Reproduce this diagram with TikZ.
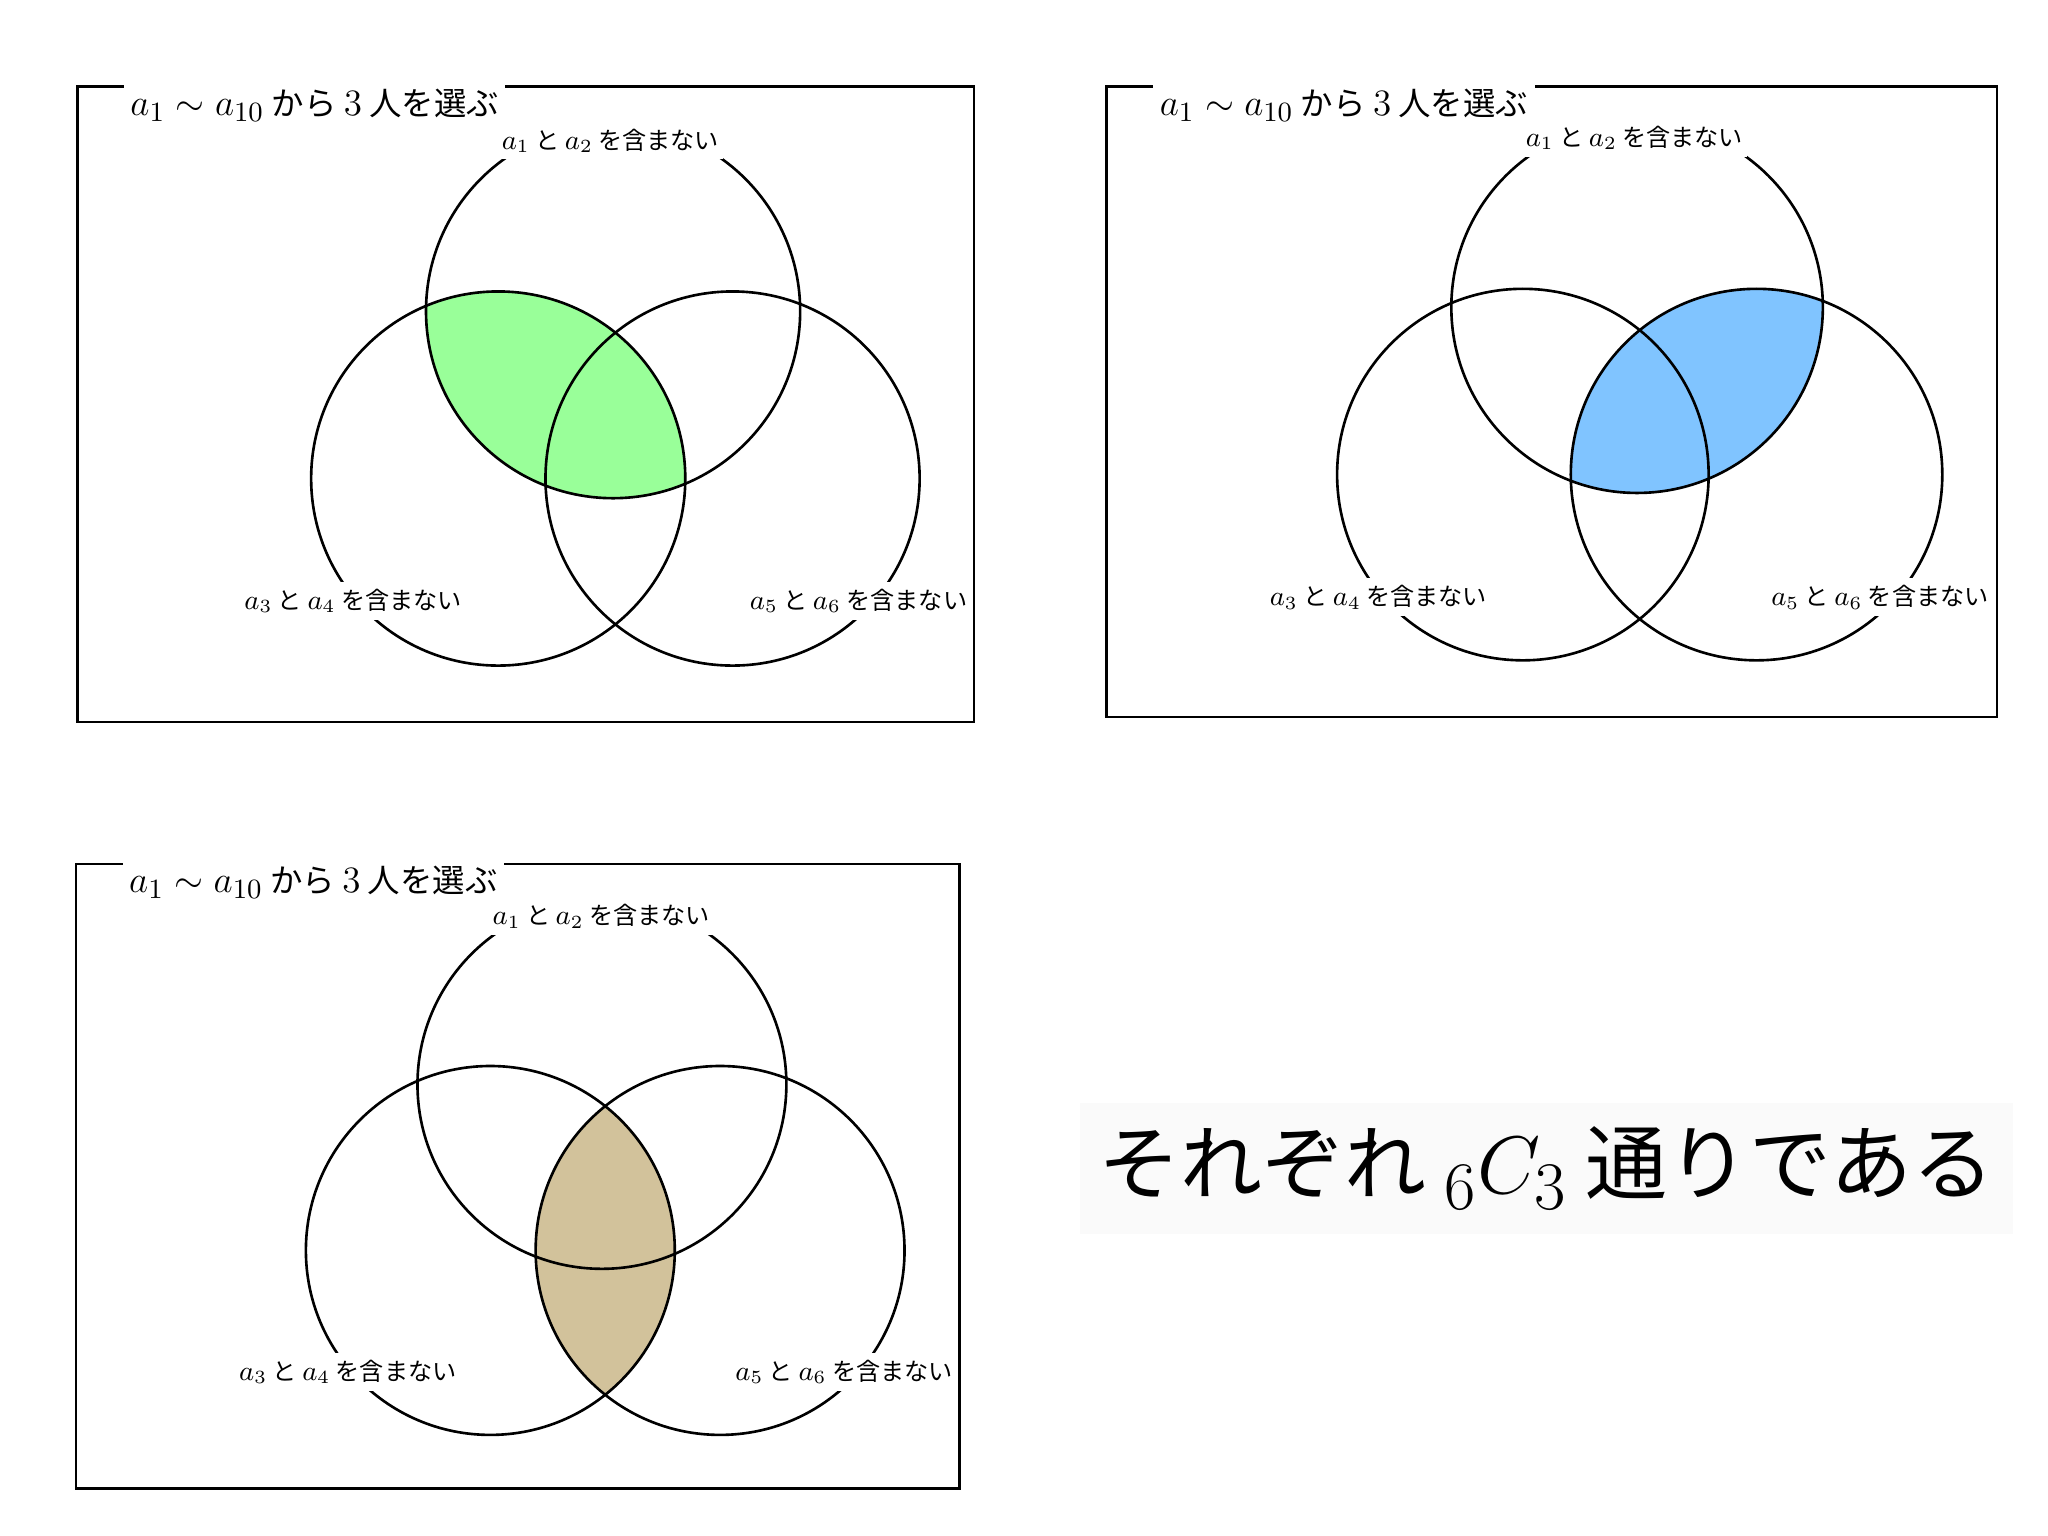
\documentclass[tikz,border=0pt]{standalone}
\usepackage{graphicx}
\usepackage{fontspec}
\newfontfamily\jp{Noto Sans CJK JP}
\definecolor{fgreen}{HTML}{99FF99}
\definecolor{fblue}{HTML}{80C4FF}
\definecolor{ftan}{HTML}{D2C29B}
\newcommand\MM[1]{\scalebox{1.18}{$#1$}}
\newcommand\BM[1]{\scalebox{1.25}{$#1$}}
\begin{document}
\begin{tikzpicture}[x=0.5pt,y=-0.5pt,
  frame/.style={line width=0.95pt},
  ring/.style={line width=1pt},
  ttl/.style={fill=white,inner sep=2.5pt,anchor=west,font=\jp\fontsize{12.35}{14}\selectfont},
  lbl/.style={fill=white,inner xsep=1.5pt,inner ysep=0pt,minimum height=14.5pt,font=\jp\fontsize{9.2}{10}\selectfont},
  big/.style={fill=gray!4,inner xsep=7pt,inner ysep=0pt,minimum height=50pt,font=\jp\fontsize{31.2}{34}\selectfont}]
\useasboundingbox (0,0) rectangle (1560,1170);

% ---------- panel 1 ----------
\draw[frame] (59,66) rectangle (742,550);
\coordinate (T1) at (467,237);
\coordinate (L1) at (379.5,364.5);
\coordinate (R1) at (558,364.5);
\begin{scope}
  \clip (T1) circle[radius=71.25pt];
  \fill[fgreen] (L1) circle[radius=71.25pt];
\end{scope}
\draw[ring] (T1) circle[radius=71.25pt];
\draw[ring] (L1) circle[radius=71.25pt];
\draw[ring] (R1) circle[radius=71.25pt];
\node[ttl] (t1) at (94,80) {\MM{a_1\sim a_{10}} から \MM{3} 人を選ぶ};
\node[lbl] (u1) at (465,107) {\MM{a_1} と \MM{a_2} を含まない};
\node[lbl] (v1) at (269,458) {\MM{a_3} と \MM{a_4} を含まない};
\node[lbl] (w1) at (654,458) {\MM{a_5} と \MM{a_6} を含まない};

% ---------- panel 2 ----------
\draw[frame] (843,66) rectangle (1521,546);
\coordinate (T2) at (1247,234);
\coordinate (L2) at (1160,361.5);
\coordinate (R2) at (1338,361.5);
\begin{scope}
  \clip (T2) circle[radius=70.75pt];
  \fill[fblue] (R2) circle[radius=70.75pt];
\end{scope}
\draw[ring] (T2) circle[radius=70.75pt];
\draw[ring] (L2) circle[radius=70.75pt];
\draw[ring] (R2) circle[radius=70.75pt];
\node[ttl] (t2) at (878,80) {\MM{a_1\sim a_{10}} から \MM{3} 人を選ぶ};
\node[lbl] (u2) at (1245,105) {\MM{a_1} と \MM{a_2} を含まない};
\node[lbl] (v2) at (1050,455) {\MM{a_3} と \MM{a_4} を含まない};
\node[lbl] (w2) at (1432,455) {\MM{a_5} と \MM{a_6} を含まない};

% ---------- panel 3 ----------
\draw[frame] (58,658) rectangle (731,1134);
\coordinate (T3) at (458.5,826);
\coordinate (L3) at (373.5,952.5);
\coordinate (R3) at (548.5,952.5);
\begin{scope}
  \clip (L3) circle[radius=70.25pt];
  \fill[ftan] (R3) circle[radius=70.25pt];
\end{scope}
\draw[ring] (T3) circle[radius=70.25pt];
\draw[ring] (L3) circle[radius=70.25pt];
\draw[ring] (R3) circle[radius=70.25pt];
\node[ttl] (t3) at (93,672) {\MM{a_1\sim a_{10}} から \MM{3} 人を選ぶ};
\node[lbl] (u3) at (458,698) {\MM{a_1} と \MM{a_2} を含まない};
\node[lbl] (v3) at (265,1045) {\MM{a_3} と \MM{a_4} を含まない};
\node[lbl] (w3) at (643,1045) {\MM{a_5} と \MM{a_6} を含まない};

% ---------- conclusion ----------
\node[big] (c) at (1178,890) {それぞれ \BM{{}_6C_3} 通りである};
\end{tikzpicture}
\end{document}
